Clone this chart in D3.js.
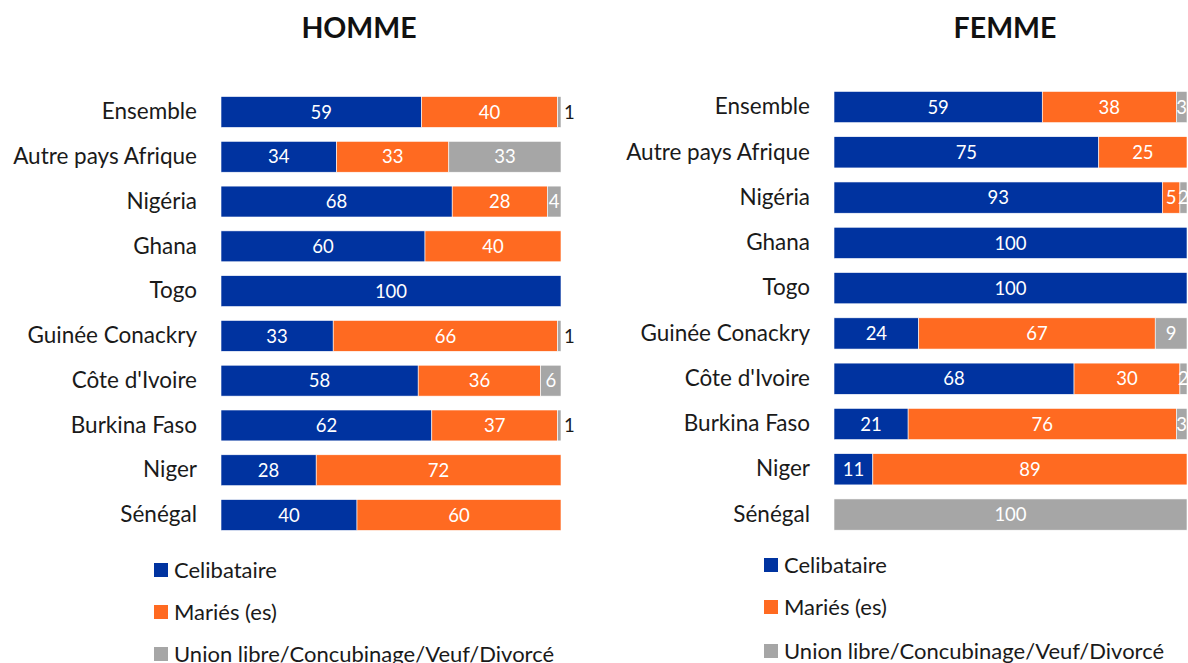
<!DOCTYPE html>
<html><head><meta charset="utf-8">
<script src="https://cdn.jsdelivr.net/npm/d3@7"></script>
<style>body{margin:0;background:#fff;overflow:hidden}svg{display:block}</style>
</head><body>
<svg id="c" width="1188" height="663"></svg>
<script>
const categories = ["Ensemble","Autre pays Afrique","Nigéria","Ghana","Togo","Guinée Conackry","Côte d'Ivoire","Burkina Faso","Niger","Sénégal"];
const seriesNames = ["Celibataire","Mariés (es)","Union libre/Concubinage/Veuf/Divorcé"];
const hommeCelib  = [59,34,68,60,100,33,58,62,28,40];
const hommeMaries = [40,33,28,40,0,66,36,37,72,60];
const hommeUnion  = [1,33,4,0,0,1,6,1,0,0];
const femmeCelib  = [59,75,93,100,100,24,68,21,11,0];
const femmeMaries = [38,25,5,0,0,67,30,76,89,0];
const femmeUnion  = [3,0,2,0,0,9,2,3,0,100];
const colors = ["#0033a0","#ff6a21","#a6a6a6"];
const FONT = "Lato, 'Open Sans', sans-serif";

const svg = d3.select("#c");

function panel(opt){
  const rows = categories.map((c,i)=>({cat:c, v:[opt.s[0][i],opt.s[1][i],opt.s[2][i]]}));
  const x = d3.scaleLinear().domain([0,100]).range(opt.xr);
  const y = d3.scaleBand().domain(categories).range(opt.yr).paddingInner(0.31).paddingOuter(0.155);
  const stack = d3.stack().keys([0,1,2]).value((d,k)=>d.v[k]);
  const layers = stack(rows);
  const g = svg.append("g");
  layers.forEach((layer,k)=>{
    layer.forEach(seg=>{
      const v = seg[1]-seg[0];
      if(v<=0) return;
      const cat = seg.data.cat;
      g.append("rect").attr("x",x(seg[0])).attr("y",y(cat))
        .attr("width",x(seg[1])-x(seg[0])).attr("height",y.bandwidth())
        .attr("fill",colors[k]).attr("stroke","#ffffff").attr("stroke-width",0.6);
      const outside = v<=1;
      g.append("text")
        .attr("x", outside ? x(seg[1])+3 : (x(seg[0])+x(seg[1]))/2)
        .attr("y", y(cat)+y.bandwidth()/2)
        .attr("dy","0.36em")
        .attr("text-anchor", outside ? "start" : "middle")
        .attr("fill", outside ? "#1a1a1a" : "#ffffff")
        .style("font-family",FONT).style("font-size","18.5px")
        .text(v);
    });
  });
  const ax = d3.axisLeft(y).tickSize(0).tickPadding(0);
  const axg = svg.append("g").attr("transform",`translate(${opt.labelX},0)`).call(ax);
  axg.select(".domain").remove();
  axg.selectAll("text").style("font-family",FONT).style("font-size","22.5px").attr("fill","#1a1a1a");
  svg.append("text").attr("x",opt.titleX).attr("y",38).attr("text-anchor","middle")
    .style("font-family",FONT).style("font-size","28.5px").style("font-weight","bold").attr("fill","#111")
    .text(opt.title);
  const lg = svg.append("g");
  seriesNames.forEach((n,k)=>{
    const cy = opt.legY[k];
    lg.append("rect").attr("x",opt.legX).attr("y",cy-7).attr("width",14).attr("height",14).attr("fill",colors[k]);
    lg.append("text").attr("x",opt.legX+20).attr("y",cy).attr("dy","0.36em")
      .style("font-family",FONT).style("font-size","22px").attr("fill","#1a1a1a").text(n);
  });
}

panel({s:[hommeCelib,hommeMaries,hommeUnion], xr:[221,561], yr:[89.6,537.4], labelX:197,
  title:"HOMME", titleX:359, legX:154, legY:[570,612,654]});
panel({s:[femmeCelib,femmeMaries,femmeUnion], xr:[834,1187], yr:[84.4,537.2], labelX:810,
  title:"FEMME", titleX:1005, legX:764, legY:[565,607,651]});
</script>
</body></html>
